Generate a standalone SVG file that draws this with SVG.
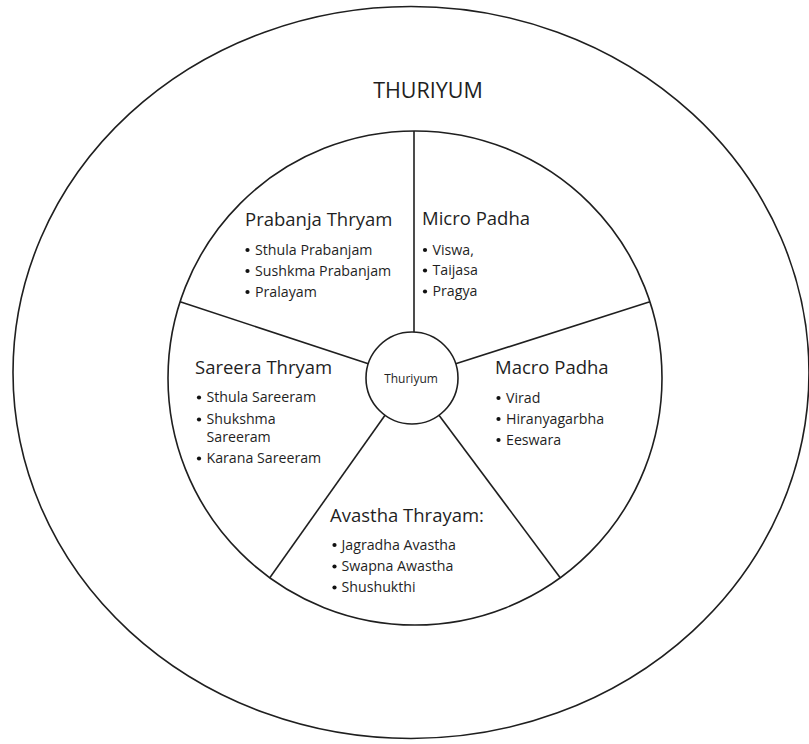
<svg xmlns="http://www.w3.org/2000/svg" width="809" height="744" viewBox="0 0 809 744">
<style>
.ring{fill:#fff;stroke:#1f1f1f;stroke-width:1.6}
.sp{stroke:#1f1f1f;stroke-width:1.6;fill:none}
.h{font-family:"Open Sans","Liberation Sans",sans-serif;font-size:18.5px;fill:#1f1f1f}
.t{font-family:"Open Sans","Liberation Sans",sans-serif;font-size:14.2px;fill:#1f1f1f}
.b{fill:#111;stroke:none}
.big{font-family:"Open Sans","Liberation Sans",sans-serif;font-size:21.5px;fill:#1f1f1f;text-anchor:middle}
.sm{font-family:"Open Sans","Liberation Sans",sans-serif;font-size:12px;fill:#1f1f1f;text-anchor:middle}
</style>
<rect width="809" height="744" fill="#fff"/>
<g id="outer">
<ellipse class="ring" cx="411" cy="372.5" rx="398" ry="366"/>
<text class="big" x="428" y="98">THURIYUM</text>
</g>
<g id="inner">
<circle class="ring" cx="415" cy="378" r="247"/>
</g>
<g id="connectors">
<line class="sp" x1="414" y1="131" x2="414" y2="332"/>
<line class="sp" x1="649.9" y1="301.7" x2="455.7" y2="363.8"/>
<line class="sp" x1="560.2" y1="577.8" x2="439" y2="415.2"/>
<line class="sp" x1="269.8" y1="577.8" x2="385" y2="415.2"/>
<line class="sp" x1="180.1" y1="301.7" x2="368.3" y2="363.8"/>
</g>
<g id="center">
<circle class="ring" cx="412" cy="378" r="46"/>
<text class="sm" x="411" y="382.5">Thuriyum</text>
</g>
<g id="prabanja">
<text class="h" x="245" y="226">Prabanja Thryam</text>
<circle class="b" cx="247.5" cy="250" r="2.1"/><text class="t" x="255" y="254.5">Sthula Prabanjam</text>
<circle class="b" cx="247.5" cy="271" r="2.1"/><text class="t" x="255" y="275.5">Sushkma Prabanjam</text>
<circle class="b" cx="247.5" cy="292" r="2.1"/><text class="t" x="255" y="296.5">Pralayam</text>
</g>
<g id="micro">
<text class="h" x="422" y="225">Micro Padha</text>
<circle class="b" cx="425" cy="250" r="2.1"/><text class="t" x="432.5" y="254.5">Viswa,</text>
<circle class="b" cx="425" cy="270.5" r="2.1"/><text class="t" x="432.5" y="275">Taijasa</text>
<circle class="b" cx="425" cy="291.5" r="2.1"/><text class="t" x="432.5" y="296">Pragya</text>
</g>
<g id="sareera">
<text class="h" x="195" y="373.5">Sareera Thryam</text>
<circle class="b" cx="199" cy="397.5" r="2.1"/><text class="t" x="206.5" y="402">Sthula Sareeram</text>
<circle class="b" cx="199" cy="419.5" r="2.1"/><text class="t" x="206.5" y="424">Shukshma</text>
<text class="t" x="206.5" y="442">Sareeram</text>
<circle class="b" cx="199" cy="458.5" r="2.1"/><text class="t" x="206.5" y="463">Karana Sareeram</text>
</g>
<g id="macro">
<text class="h" x="495" y="373.5">Macro Padha</text>
<circle class="b" cx="498.5" cy="398" r="2.1"/><text class="t" x="506" y="402.5">Virad</text>
<circle class="b" cx="498.5" cy="419" r="2.1"/><text class="t" x="506" y="423.5">Hiranyagarbha</text>
<circle class="b" cx="498.5" cy="440" r="2.1"/><text class="t" x="506" y="444.5">Eeswara</text>
</g>
<g id="avastha">
<text class="h" x="330" y="521.5">Avastha Thrayam:</text>
<circle class="b" cx="334.5" cy="545" r="2.1"/><text class="t" x="341.5" y="549.5">Jagradha Avastha</text>
<circle class="b" cx="334.5" cy="566.5" r="2.1"/><text class="t" x="341.5" y="571">Swapna Awastha</text>
<circle class="b" cx="334.5" cy="587.5" r="2.1"/><text class="t" x="341.5" y="592">Shushukthi</text>
</g>
</svg>
